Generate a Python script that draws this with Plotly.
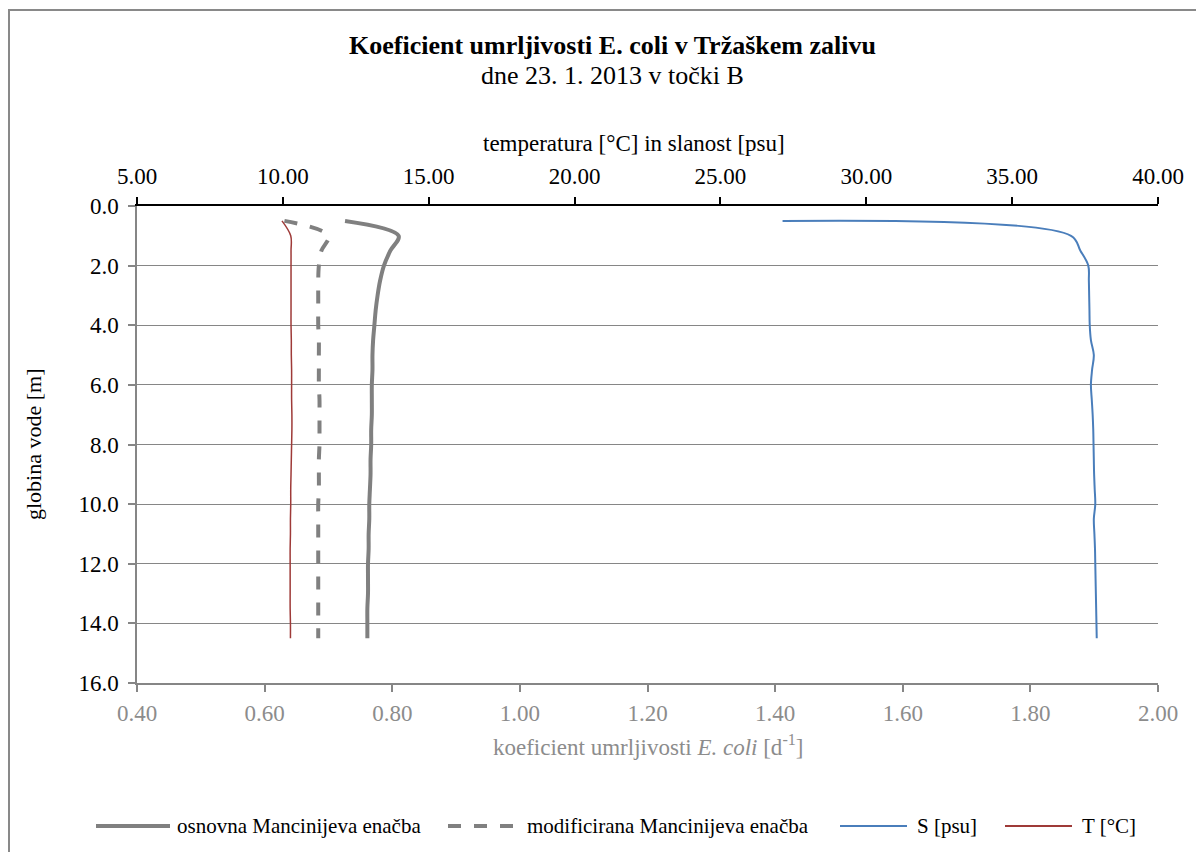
import plotly.graph_objects as go

## Data (depth profile at point B, 23. 1. 2013)
globina = [0.5, 1.0, 1.5, 2.0, 2.5, 3.0, 3.5, 4.0, 4.5, 5.0, 5.5, 6.0, 6.5, 7.0, 7.5,
           8.0, 8.5, 9.0, 9.5, 10.0, 10.5, 11.0, 11.5, 12.0, 12.5, 13.0, 13.5, 14.0, 14.5]

k_osnovna = [0.726, 0.810, 0.797, 0.787, 0.781, 0.777, 0.774, 0.772, 0.770, 0.769, 0.769, 0.768,
             0.768, 0.768, 0.767, 0.767, 0.766, 0.766, 0.765, 0.764, 0.764, 0.763, 0.763, 0.762,
             0.762, 0.762, 0.761, 0.761, 0.761]

k_modificirana = [0.631, 0.700, 0.689, 0.685, 0.684, 0.684, 0.684, 0.684, 0.685, 0.685, 0.685,
                  0.685, 0.686, 0.686, 0.686, 0.686, 0.685, 0.685, 0.685, 0.684, 0.684, 0.684,
                  0.684, 0.684, 0.684, 0.684, 0.684, 0.684, 0.684]

salinity = [27.13, 37.02, 37.34, 37.61, 37.63, 37.64, 37.65, 37.66, 37.70, 37.80, 37.74, 37.70,
            37.73, 37.76, 37.78, 37.79, 37.80, 37.81, 37.83, 37.85, 37.80, 37.82, 37.84, 37.85,
            37.86, 37.87, 37.88, 37.89, 37.90]

temperature = [9.97, 10.27, 10.28, 10.28, 10.28, 10.28, 10.28, 10.28, 10.29, 10.29, 10.30, 10.30,
               10.30, 10.31, 10.31, 10.30, 10.29, 10.28, 10.27, 10.27, 10.26, 10.26, 10.25, 10.25,
               10.25, 10.25, 10.25, 10.26, 10.26]

legend_names = ["osnovna Mancinijeva enačba", "modificirana Mancinijeva enačba", "S [psu]", "T [°C]"]

## Styling
W, H = 1204, 852
OFF = 8  # page body margin, the figure div starts 8 px in
PL, PR, PT, PB = 137, 1158, 206, 683  # plot area in page pixels
FONT = "Liberation Serif"
GREY = "#868686"
LINE_GREY = "#808080"
BLUE = "#4A7EBB"
RED = "#9E3A38"


def px(x):
    return (x - PL) / (PR - PL)


def py(y):
    return (PB - y) / (PB - PT)


fig = go.Figure()

fig.add_trace(go.Scatter(x=k_osnovna, y=globina, mode="lines", name=legend_names[0],
                         line=dict(color=LINE_GREY, width=4, shape="spline")))
fig.add_trace(go.Scatter(x=k_modificirana, y=globina, mode="lines", name=legend_names[1],
                         line=dict(color=LINE_GREY, width=4, dash="13px,13px", shape="spline")))
fig.add_trace(go.Scatter(x=salinity, y=globina, mode="lines", name=legend_names[2], xaxis="x2",
                         line=dict(color=BLUE, width=2, shape="spline")))
fig.add_trace(go.Scatter(x=temperature, y=globina, mode="lines", name=legend_names[3], xaxis="x2",
                         line=dict(color=RED, width=1.5, shape="spline")))

fig.update_layout(
    width=W, height=H,
    margin=dict(l=PL - OFF, r=W - PR + OFF, t=PT - OFF, b=H - PB + OFF, pad=0),
    paper_bgcolor="white", plot_bgcolor="white",
    showlegend=False,
    font=dict(family=FONT, size=23, color="black"),
    xaxis=dict(range=[0.4, 2.0], dtick=0.2, tick0=0.4, tickformat=".2f",
               showgrid=False, zeroline=False, showline=True, linecolor=GREY, linewidth=1.5,
               ticks="outside", ticklen=7, tickcolor=GREY, tickwidth=1.5,
               tickfont=dict(family=FONT, color="#8c8c8c", size=23), ticklabelstandoff=2),
    xaxis2=dict(range=[5, 40], dtick=5, tick0=5, tickformat=".2f", overlaying="x", side="top",
                showgrid=False, zeroline=False, showline=True, linecolor="black", linewidth=1.5,
                ticks="outside", ticklen=7, tickcolor="black", tickwidth=1.5,
                tickfont=dict(family=FONT, color="black", size=23), ticklabelstandoff=4),
    yaxis=dict(range=[16, 0], dtick=2, tick0=0, tickformat=".1f",
               showgrid=True, gridcolor=GREY, gridwidth=1, zeroline=False,
               showline=True, linecolor=GREY, linewidth=1.5,
               ticks="outside", ticklen=7, tickcolor=GREY, tickwidth=1.5,
               tickfont=dict(family=FONT, color="black", size=23), ticklabelstandoff=5),
)

# Titles as annotations so they sit where the reference has them
annotations = [
    dict(text="<b>Koeficient umrljivosti E. coli v Tržaškem zalivu</b>", x=px(612), y=py(46),
         font=dict(size=26)),
    dict(text="dne 23. 1. 2013 v točki B", x=px(612), y=py(76), font=dict(size=26)),
    dict(text="temperatura [°C] in slanost [psu]", x=px(634), y=py(143), font=dict(size=23)),
    dict(text="koeficient umrljivosti <i>E. coli</i> [d<sup>-1</sup>]", x=px(648), y=py(745),
         font=dict(size=23, color="#8c8c8c")),
    dict(text="globina vode [m]", x=px(33), y=py(444), textangle=-90, font=dict(size=22)),
]
for a in annotations:
    a["font"]["family"] = FONT
    a.update(xref="paper", yref="paper", showarrow=False, xanchor="center", yanchor="middle")
    fig.add_annotation(**a)

# Legend drawn by hand (long line samples as in the reference)
legend_y = 826
legend_items = [
    (96, 170, 175, LINE_GREY, 4, "solid"),
    (448, 516, 525, LINE_GREY, 4, "13px,13px"),
    (840, 907, 915, BLUE, 2, "solid"),
    (1005, 1072, 1080, RED, 2, "solid"),
]
for name, (x0, x1, xt, color, width, dash) in zip(legend_names, legend_items):
    fig.add_shape(type="line", xref="paper", yref="paper", x0=px(x0), x1=px(x1),
                  y0=py(legend_y), y1=py(legend_y), line=dict(color=color, width=width, dash=dash))
    fig.add_annotation(text=name, xref="paper", yref="paper", x=px(xt), y=py(legend_y),
                       xanchor="left", yanchor="middle", showarrow=False,
                       font=dict(family=FONT, size=21))

# Chart area border (left and top visible in the reference)
fig.add_shape(type="rect", xref="paper", yref="paper", x0=px(9), x1=px(1230), y0=py(10), y1=py(880),
              line=dict(color="#898989", width=2), layer="below")

fig.write_html("out.html")
